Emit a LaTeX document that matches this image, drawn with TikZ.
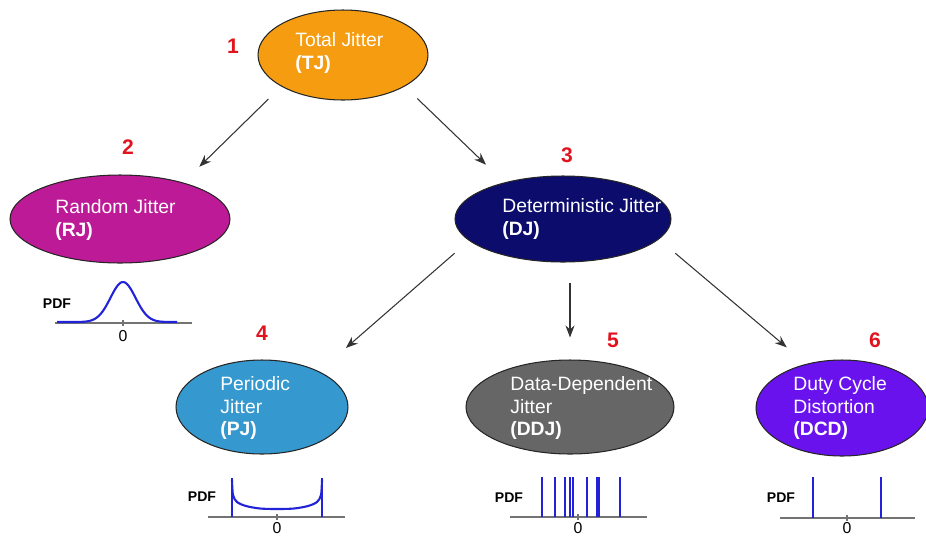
\documentclass[tikz,border=0pt]{standalone}
\usepackage{fontspec}
\setmainfont{Liberation Sans}
\usepackage{xcolor}
\usepackage{tikz}
\usetikzlibrary{shapes.geometric,arrows.meta}

\definecolor{tjorange}{HTML}{F69C10}
\definecolor{rjmagenta}{HTML}{BD1A97}
\definecolor{djnavy}{HTML}{0C0C6C}
\definecolor{pjblue}{HTML}{3598CE}
\definecolor{ddjgray}{HTML}{666666}
\definecolor{dcdviolet}{HTML}{6A12EE}
\definecolor{numred}{HTML}{E0141E}
\definecolor{pdfblue}{HTML}{2222D8}

\begin{document}
\begin{tikzpicture}[x=0.02cm, y=-0.02cm,
        jitter/.style={ellipse, draw=black!85, line width=0.6pt, inner sep=0pt},
        jtext/.style={anchor=west, align=left, text=white, inner sep=0pt, font=\fontsize{11}{13}\selectfont},
        num/.style={text=numred, inner sep=0pt, font=\bfseries\fontsize{12}{14}\selectfont},
        arr/.style={-{Stealth[length=2.4mm,width=1.8mm]}, draw=black!80, line width=0.6pt},
        axis/.style={draw=black!55, line width=0.8pt},
        pdfcurve/.style={draw=pdfblue, line width=1.2pt},
        pdflabel/.style={inner sep=0pt, font=\bfseries\fontsize{8}{9}\selectfont},
        zero/.style={anchor=north, inner sep=0pt, font=\fontsize{9}{10}\selectfont}]
        \useasboundingbox (0,0) rectangle (926,535);

        % Jitter components
        \node[jitter, fill=tjorange, minimum width=3.4cm, minimum height=1.8cm] (tj) at (343,55) {};
        \node[jitter, fill=rjmagenta, minimum width=4.4cm, minimum height=1.76cm] (rj) at (120,219) {};
        \node[jitter, fill=djnavy, minimum width=4.32cm, minimum height=1.72cm] (dj) at (563,219) {};
        \node[jitter, fill=pjblue, minimum width=3.44cm, minimum height=1.88cm] (pj) at (262,407) {};
        \node[jitter, fill=ddjgray, minimum width=4.16cm, minimum height=1.88cm] (ddj) at (570,407) {};
        \node[jitter, fill=dcdviolet, minimum width=3.44cm, minimum height=1.92cm] (dcd) at (842,408) {};

        % Component names
        \node[jtext] (tjlab) at (295,53) {Total Jitter\\\textbf{(TJ)}};
        \node[jtext] (rjlab) at (55,220) {Random Jitter\\\textbf{(RJ)}};
        \node[jtext] (djlab) at (502,219) {Deterministic Jitter\\\textbf{(DJ)}};
        \node[jtext] (pjlab) at (220,408) {Periodic\\Jitter\\\textbf{(PJ)}};
        \node[jtext] (ddjlab) at (510,408) {Data-Dependent\\Jitter\\\textbf{(DDJ)}};
        \node[jtext] (dcdlab) at (793,408) {Duty Cycle\\Distortion\\\textbf{(DCD)}};

        % Numbers
        \node[num] (n1) at (233,46) {1};
        \node[num] (n2) at (128,147) {2};
        \node[num] (n3) at (567,155) {3};
        \node[num] (n4) at (262,333) {4};
        \node[num] (n5) at (613,340) {5};
        \node[num] (n6) at (875,340) {6};

        % Arrows
        \draw[arr, shorten <=3.6mm, shorten >=4.5mm] (tj.207) -- (rj.30.5);
        \draw[arr, shorten <=3.5mm, shorten >=5.1mm] (tj.333) -- (dj.148);
        \draw[arr, shorten <=3.8mm, shorten >=7.1mm] (dj.193) -- (pj.32.5);
        \draw[arr, shorten <=4mm, shorten >=4.4mm] (dj.south -| ddj.north) -- (ddj.north);
        \draw[arr, shorten <=4.3mm, shorten >=5.1mm] (dj.348) -- (dcd.129);

        % PDF of RJ
        \draw[axis] (55,323) -- (192,323);
        \draw[axis] (123,320) -- (123,326);
        \draw[pdfcurve] plot[domain=57:177, samples=80] (\x, {322-40*exp(-0.5*((\x-123)/12.5)^2)});
        \node[pdflabel] (pdfrj) at (57,304) {PDF};
        \node[zero] (zrj) at (123,330) {0};

        % PDF of PJ
        \draw[axis] (208,517) -- (345,517);
        \draw[axis] (277,514) -- (277,520);
        \draw[pdfcurve] (232,517) -- (232,478);
        \draw[pdfcurve] (322,517) -- (322,478);
        \draw[pdfcurve] plot[smooth] coordinates {(232,480) (233,495) (237,502) (246,506) (260,508.5) (277,509) (294,508.5) (308,506) (317,502) (321,495) (322,480)};
        \node[pdflabel] (pdfpj) at (202,497) {PDF};
        \node[zero] (zpj) at (277,522) {0};

        % PDF of DDJ
        \draw[axis] (510,517) -- (647,517);
        \draw[axis] (578,514) -- (578,520);
        \foreach \s in {542,555,565,570,573,587,597,599,620}
            \draw[pdfcurve] (\s,517) -- (\s,477);
        \node[pdflabel] (pdfddj) at (509,498) {PDF};
        \node[zero] (zddj) at (578,522) {0};

        % PDF of DCD
        \draw[axis] (780,518) -- (915,518);
        \draw[axis] (847,515) -- (847,521);
        \draw[pdfcurve] (813,518) -- (813,477);
        \draw[pdfcurve] (881,518) -- (881,477);
        \node[pdflabel] (pdfdcd) at (781,498) {PDF};
        \node[zero] (zdcd) at (847,522) {0};
\end{tikzpicture}
\end{document}
